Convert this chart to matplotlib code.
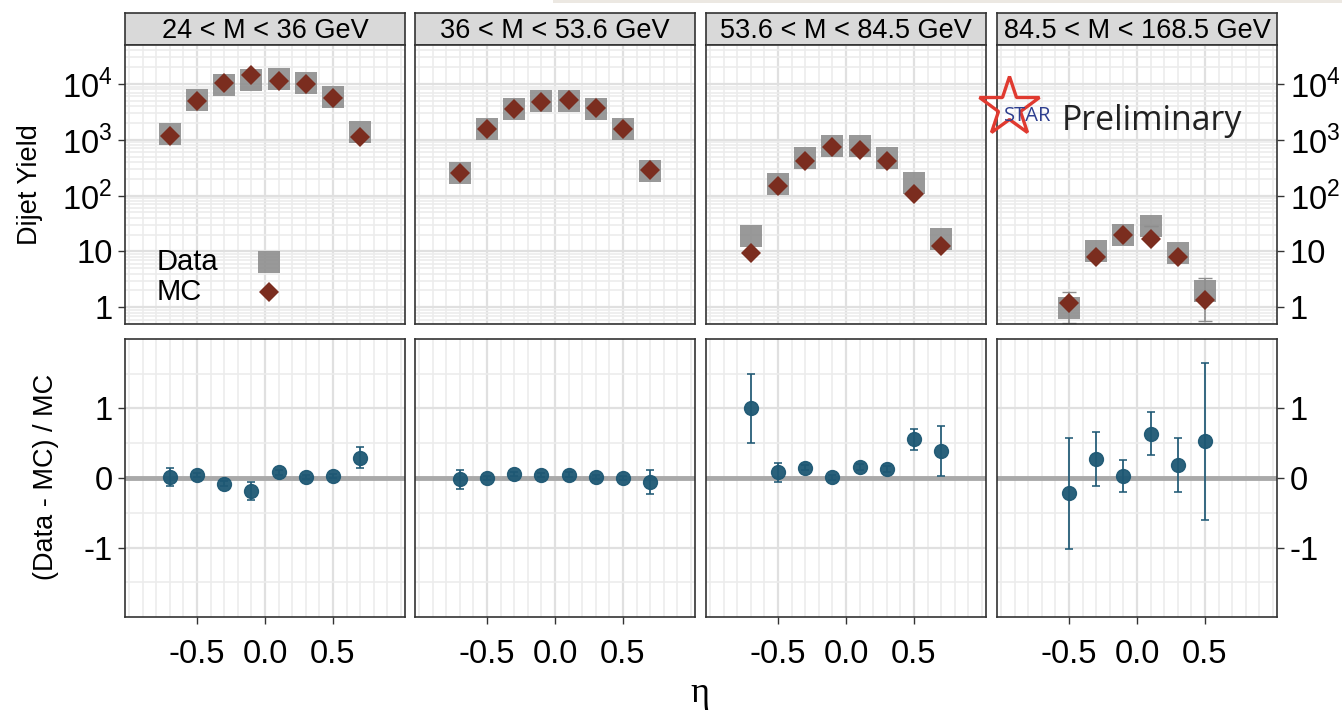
import numpy as np
import matplotlib
matplotlib.use("Agg")
import matplotlib.pyplot as plt
from matplotlib.ticker import LogLocator, NullFormatter, FixedLocator
from matplotlib.lines import Line2D
from matplotlib.patches import Rectangle

plt.rcParams['font.family'] = ['Liberation Sans', 'DejaVu Sans']
plt.rcParams['mathtext.fontset'] = 'custom'
plt.rcParams['mathtext.rm'] = 'Liberation Sans'
plt.rcParams['axes.unicode_minus'] = False

# mass bins
titles = ['24 < M < 36 GeV', '36 < M < 53.6 GeV', '53.6 < M < 84.5 GeV', '84.5 < M < 168.5 GeV']

eta = [-0.7, -0.5, -0.3, -0.1, 0.1, 0.3, 0.5, 0.7]
eta4 = [-0.5, -0.3, -0.1, 0.1, 0.3, 0.5]

# dijet yields
data_m1 = [1250, 5100, 9700, 12000, 12300, 10400, 5900, 1400]
mc_m1 = [1150, 5000, 10300, 14500, 11300, 10200, 5700, 1100]
data_m2 = [255, 1550, 3600, 5000, 5000, 3600, 1550, 280]
mc_m2 = [250, 1550, 3530, 4800, 5100, 3640, 1590, 287]
data_m3 = [19, 160, 480, 760, 760, 480, 165, 17]
mc_m3 = [9.5, 150, 420, 750, 660, 420, 105, 12.3]
data_m4 = [0.95, 10.3, 20, 28, 9.3, 1.95]
mc_m4 = [1.19, 8.1, 19.4, 16.8, 8.1, 1.33]
data_lo4 = [0.43, 0, 0, 0, 0, 1.39]
data_hi4 = [0.95, 0, 0, 0, 0, 1.35]

# (Data - MC) / MC
ratio_m1 = [0.02, 0.04, -0.08, -0.19, 0.08, 0.02, 0.03, 0.29]
rerr_m1 = [0.13, 0.03, 0.04, 0.13, 0.03, 0.03, 0.03, 0.15]
ratio_m2 = [-0.02, 0.0, 0.06, 0.04, 0.05, 0.01, 0.0, -0.06]
rerr_m2 = [0.14, 0.03, 0.03, 0.03, 0.03, 0.03, 0.03, 0.17]
ratio_m3 = [1.0, 0.08, 0.15, 0.01, 0.16, 0.13, 0.56, 0.39]
rerr_m3 = [0.5, 0.14, 0.04, 0.04, 0.04, 0.04, 0.15, 0.36]
ratio_m4 = [-0.22, 0.27, 0.03, 0.64, 0.19, 0.53]
rerr_m4 = [0.8, 0.39, 0.23, 0.31, 0.39, 1.13]

panels = [
    (eta, data_m1, mc_m1, None, ratio_m1, rerr_m1),
    (eta, data_m2, mc_m2, None, ratio_m2, rerr_m2),
    (eta, data_m3, mc_m3, None, ratio_m3, rerr_m3),
    (eta4, data_m4, mc_m4, [data_lo4, data_hi4], ratio_m4, rerr_m4),
]

W, H = 1342, 711
fig = plt.figure(figsize=(W / 100, H / 100), dpi=100)

lefts = [125, 415, 706, 997]
pw = 280
top_y0, top_y1 = 45, 324
bot_y0, bot_y1 = 339, 617
strip_y0 = 13

sq_col = '#8E8E8E'
dia_col = '#7B2D1F'
dot_col = '#1E5874'
spine_col = '#333333'


def style(ax):
    for s in ax.spines.values():
        s.set_color(spine_col)
        s.set_linewidth(1.2)
    ax.set_xlim(-1.03, 1.03)
    ax.set_xticks([-0.5, 0.0, 0.5])
    ax.xaxis.set_minor_locator(FixedLocator(np.arange(-1.0, 1.01, 0.1)))
    ax.grid(True, which='major', color='#E0E0E0', lw=1.6, zorder=0)
    ax.grid(True, which='minor', color='#ECECEC', lw=1.2, zorder=0)
    ax.set_axisbelow(True)
    ax.tick_params(which='minor', length=0)
    ax.tick_params(which='major', length=5, width=1, color=spine_col, labelsize=23.5, pad=4)


for i, (x, dat, mc, derr, rat, rerr) in enumerate(panels):
    lx = lefts[i] / W
    wx = pw / W

    # strip
    st = fig.add_axes([lx, 1 - top_y0 / H, wx, (top_y0 - strip_y0) / H])
    st.set_facecolor('#D9D9D9')
    st.set_xticks([])
    st.set_yticks([])
    for s in st.spines.values():
        s.set_color(spine_col)
        s.set_linewidth(1.2)
    st.text(0.5, 0.45, titles[i], ha='center', va='center', fontsize=19.5, transform=st.transAxes)

    # yields
    ax = fig.add_axes([lx, 1 - top_y1 / H, wx, (top_y1 - top_y0) / H])
    ax.set_yscale('log')
    ax.set_ylim(0.5, 50000)
    style(ax)
    ax.set_yticks([1, 10, 100, 1000, 10000])
    ax.set_yticklabels(['1', '10', '$10^2$', '$10^3$', '$10^4$'])
    ax.yaxis.set_minor_locator(LogLocator(base=10, subs=np.arange(2, 10), numticks=20))
    ax.yaxis.set_minor_formatter(NullFormatter())
    ax.tick_params(axis='x', which='major', length=0, labelbottom=False)
    if derr is not None:
        ax.errorbar(x, dat, yerr=derr, fmt='none', ecolor='#8E8E8E', elinewidth=1.2,
                    capsize=5, zorder=2)
    ax.plot(x, dat, ls='none', marker='s', ms=15.5, color=sq_col, alpha=0.9, mew=0, zorder=3)
    ax.plot(x, mc, ls='none', marker='D', ms=10.5, color=dia_col, mew=0, zorder=4)

    # ratio
    axb = fig.add_axes([lx, 1 - bot_y1 / H, wx, (bot_y1 - bot_y0) / H])
    axb.set_ylim(-2, 2)
    style(axb)
    axb.tick_params(axis='x', which='major', pad=11)
    axb.set_yticks([-1, 0, 1])
    axb.set_yticklabels(['-1', '0', '1'])
    axb.yaxis.set_minor_locator(FixedLocator([-1.5, -0.5, 0.5, 1.5]))
    axb.axhline(0, color='#A9A9A9', lw=3.5, zorder=1.5)
    axb.errorbar(x, rat, yerr=rerr, fmt='o', ms=10, color=dot_col, ecolor=dot_col,
                 elinewidth=1.3, capsize=3, capthick=1.2, alpha=0.95, zorder=3)

    for a in (ax, axb):
        if i == 0:
            a.tick_params(axis='y', which='major', left=True, labelleft=True)
        elif i == 3:
            a.yaxis.tick_right()
            a.tick_params(axis='y', which='major', right=True, labelright=True, left=False)
        else:
            a.tick_params(axis='y', which='major', length=0, labelleft=False)

    if i == 0:
        # legend keys
        ax.text(0.114, 0.222, 'Data', transform=ax.transAxes, fontsize=21, va='center', ha='left')
        ax.text(0.114, 0.115, 'MC', transform=ax.transAxes, fontsize=21, va='center', ha='left')
        ax.plot([0.515], [0.222], transform=ax.transAxes, ls='none', marker='s', ms=15.5,
                color=sq_col, alpha=0.9, mew=0)
        ax.plot([0.515], [0.115], transform=ax.transAxes, ls='none', marker='D', ms=10.5,
                color=dia_col, mew=0)

fig.text(30 / W, 1 - 185 / H, 'Dijet Yield', rotation=90, ha='center', va='center', fontsize=19.5)
fig.text(46 / W, 1 - 477 / H, '(Data - MC) / MC', rotation=90, ha='center', va='center', fontsize=19.5)
fig.text(700 / W, 1 - 693 / H, 'η', ha='center', va='center', fontsize=26, family='Liberation Serif')

# STAR Preliminary logo
fig.add_artist(Line2D([1009 / W], [1 - 107 / H], marker='*', ms=45, mfc='none', mec='#E03A30',
                      mew=2.4, transform=fig.transFigure))
fig.text(1028 / W, 1 - 116 / H, 'STAR', ha='center', va='center', fontsize=14.5,
         color='#2E3F8F', family='Open Sans')
fig.text(1062 / W, 1 - 121 / H, 'Preliminary', ha='left', va='center', fontsize=24.4,
         color='#222222', family='Open Sans')

fig.add_artist(Rectangle((553 / W, 1 - 3 / H), 1 - 553 / W, 3 / H, transform=fig.transFigure,
                         color='#ECE8E2', lw=0))

fig.savefig('out.png', dpi=100)
